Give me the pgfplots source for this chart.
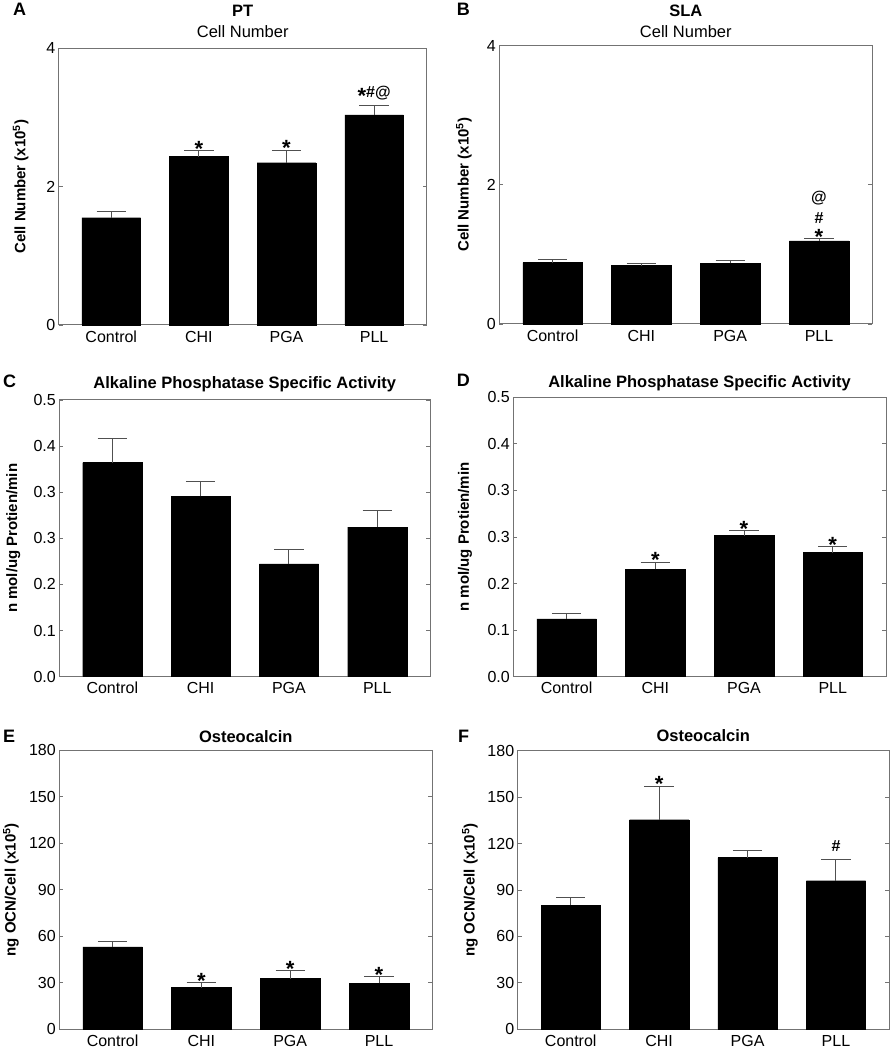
\documentclass[border=0pt]{standalone}
\usepackage{fontspec}
\setmainfont{Liberation Sans}
\usepackage{pgfplots}
\pgfplotsset{compat=1.18}
\definecolor{axgray}{RGB}{115,115,115}
\definecolor{errgray}{RGB}{80,80,80}
\pgfplotsset{
  panel/.style={
    scale only axis, anchor=south west, clip=false,
    xmin=-0.6, xmax=3.6, ymin=0,
    xtick={0,1,2,3}, xticklabels={Control,CHI,PGA,PLL},
    x tick style={draw=none},
    tick align=inside, major tick length=4pt,
    y tick style={axgray, line width=0.9pt},
    axis line style={axgray, line width=1pt},
    ticklabel style={font=\fontsize{16}{19}\selectfont},
    xticklabel style={anchor=north, yshift=-5pt, inner sep=0.5pt, text height=11.5pt, text depth=0pt},
    /pgf/number format/assume math mode=true,
    ylabel style={font=\bfseries\fontsize{15}{18}\selectfont, at={(axis description cs:0,0.5)}, anchor=center},
  },
  bars/.style={ybar, fill=black, draw=black, bar width=0.67, bar shift=0pt,
    error bars/.cd, y dir=plus, y explicit,
    error bar style={errgray, line width=1pt},
    error mark options={rotate=90, errgray, line width=1pt, mark size=14.7pt}},
}
\newcommand{\bast}{\raisebox{-6pt}{\fontsize{22}{22}\selectfont *}}
\newcommand{\sig}[3]{\node[font=\bfseries\fontsize{16}{19}\selectfont, anchor=base, yshift=#3, inner sep=0pt] at (axis cs:#1) {#2};}
\newcommand{\ttl}[3]{\node[font=\bfseries\fontsize{16.5}{19}\selectfont, anchor=base] at (#1pt,#2pt) {#3};}
\newcommand{\sttl}[3]{\node[font=\fontsize{16.5}{19}\selectfont, anchor=base] at (#1pt,#2pt) {#3};}
\newcommand{\plet}[3]{\node[font=\bfseries\fontsize{18}{21}\selectfont, anchor=base west, inner sep=0pt] at (#1pt,#2pt) {#3};}

\begin{document}
\begin{tikzpicture}
\useasboundingbox (0,0) rectangle (890pt,1050pt);

% ---------- A ----------
\begin{axis}[panel, at={(58.7pt,725pt)}, width=368pt, height=276.7pt,
  ymax=4, ytick={0,2,4}, ylabel={Cell Number (x10\textsuperscript{5})},
  ylabel style={yshift=38pt}]
\addplot[bars] table[x=x, y=y, y error=e] {
x y e
0 1.551 0.087
1 2.433 0.087
2 2.346 0.179
3 3.036 0.144
};
\sig{1,2.52}{\bast}{0.5pt}
\sig{2,2.525}{\bast}{0.5pt}
\sig{3,3.18}{\bast\#@}{8pt}
\end{axis}
\plet{13}{1034.3}{A}
\ttl{242.7}{1033.3}{PT}
\sttl{242.7}{1012}{Cell Number}

% ---------- B ----------
\begin{axis}[panel, at={(499.3pt,726pt)}, width=373pt, height=278.3pt,
  ymax=4, ytick={0,2,4}, ylabel={Cell Number (x10\textsuperscript{5})},
  ylabel style={yshift=35.3pt}]
\addplot[bars] table[x=x, y=y, y error=e] {
x y e
0 0.881 0.043
1 0.838 0.034
2 0.872 0.038
3 1.193 0.033
};
\sig{3,1.226}{\bast}{0pt}
\sig{3,1.226}{\#}{15.5pt}
\sig{3,1.226}{@}{36pt}
\end{axis}
\plet{456.7}{1034.3}{B}
\ttl{685.8}{1033.3}{SLA}
\sttl{685.8}{1012}{Cell Number}

% ---------- C ----------
\begin{axis}[panel, at={(59.3pt,373.3pt)}, width=371pt, height=276.7pt,
  ymax=0.5, ytick={0,0.083333,0.166667,0.25,0.333333,0.416667,0.5},
  yticklabels={0.0,0.1,0.2,0.3,0.3,0.4,0.5},
  ylabel={n mol/ug Protien/min}, ylabel style={yshift=46pt}]
\addplot[bars] table[x=x, y=y, y error=e] {
x y e
0 0.387 0.043
1 0.326 0.026
2 0.204 0.0255
3 0.2705 0.0305
};
\end{axis}
\plet{3}{662}{C}
\ttl{244.8}{661}{Alkaline Phosphatase Specific Activity}

% ---------- D ----------
\begin{axis}[panel, at={(513.3pt,373.3pt)}, width=372.7pt, height=279.4pt,
  ymax=0.5, ytick={0,0.083333,0.166667,0.25,0.333333,0.416667,0.5},
  yticklabels={0.0,0.1,0.2,0.3,0.3,0.4,0.5},
  ylabel={n mol/ug Protien/min}, ylabel style={yshift=48.3pt}]
\addplot[bars] table[x=x, y=y, y error=e] {
x y e
0 0.1033 0.0095
1 0.1922 0.0126
2 0.2524 0.0090
3 0.2220 0.0107
};
\sig{1,0.2048}{\bast}{0.5pt}
\sig{2,0.2614}{\bast}{0.5pt}
\sig{3,0.2327}{\bast}{0.5pt}
\end{axis}
\plet{456.7}{663.3}{D}
\ttl{699.6}{662.3}{Alkaline Phosphatase Specific Activity}

% ---------- E ----------
\begin{axis}[panel, at={(59.3pt,20.7pt)}, width=373pt, height=279pt,
  ymax=180, ytick={0,30,60,90,120,150,180},
  ylabel={ng OCN/Cell (x10\textsuperscript{5})}, ylabel style={yshift=48.3pt}]
\addplot[bars] table[x=x, y=y, y error=e] {
x y e
0 53.1 3.5
1 26.9 3.0
2 32.7 5.2
3 29.7 4.1
};
\sig{1,29.9}{\bast}{0.5pt}
\sig{2,37.9}{\bast}{0.5pt}
\sig{3,33.8}{\bast}{0.5pt}
\end{axis}
\plet{3}{307}{E}
\ttl{245.8}{307.7}{Osteocalcin}

% ---------- F ----------
\begin{axis}[panel, at={(517.7pt,20.7pt)}, width=371.3pt, height=278.6pt,
  ymax=180, ytick={0,30,60,90,120,150,180},
  ylabel={ng OCN/Cell (x10\textsuperscript{5})}, ylabel style={yshift=47.7pt}]
\addplot[bars] table[x=x, y=y, y error=e] {
x y e
0 80.3 5.0
1 135.4 21.7
2 110.9 4.9
3 96.0 13.4
};
\sig{1,157.1}{\bast}{0.5pt}
\sig{3,109.4}{\#}{8pt}
\end{axis}
\plet{458}{307}{F}
\ttl{703.3}{308.3}{Osteocalcin}
\end{tikzpicture}
\end{document}
